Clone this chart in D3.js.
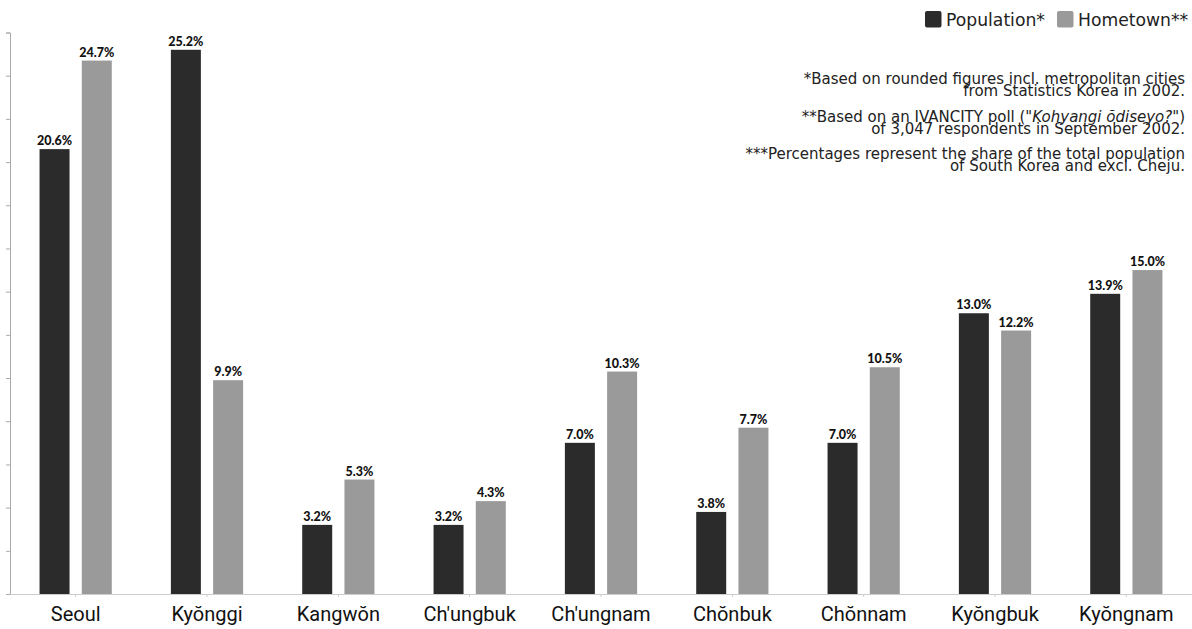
<!DOCTYPE html>
<html>
<head>
<meta charset="utf-8">
<script src="https://cdn.jsdelivr.net/npm/d3@7"></script>
<style>
  html, body { margin: 0; padding: 0; background: #fff; }
  svg { display: block; }
</style>
</head>
<body>
<svg id="chart" width="1192" height="629"></svg>
<script>
// Provinces of South Korea (excluding Cheju)
const provinces = ["Seoul", "Kyŏnggi", "Kangwŏn", "Ch'ungbuk", "Ch'ungnam", "Chŏnbuk", "Chŏnnam", "Kyŏngbuk", "Kyŏngnam"];
// Share of total population, 2002 (%)
const populationShare = [20.6, 25.2, 3.2, 3.2, 7.0, 3.8, 7.0, 13.0, 13.9];
// Share naming the province as their hometown (%)
const hometownShare = [24.7, 9.9, 5.3, 4.3, 10.3, 7.7, 10.5, 12.2, 15.0];
const seriesNames = ["Population*", "Hometown**"];
const yTicks = [0, 2, 4, 6, 8, 10, 12, 14, 16, 18, 20, 22, 24, 26];
const notes = [
  ["*Based on rounded figures incl. metropolitan cities", "from Statistics Korea in 2002."],
  ["**Based on an IVANCITY poll (\"", "of 3,047 respondents in September 2002."],
  ["***Percentages represent the share of the total population", "of South Korea and excl. Cheju."]
];
const pollTitle = "Kohyangi ŏdiseyo?";

const svg = d3.select("#chart");
const colors = d3.scaleOrdinal().domain(seriesNames).range(["#2b2b2b", "#9a9a9a"]);

const x0 = d3.scaleBand().domain(provinces).range([10, 1192]).paddingInner(0.45).paddingOuter(0.225);
const x1 = d3.scaleBand().domain(seriesNames).range([0, x0.bandwidth()]).paddingInner(0.29);
const y = d3.scaleLinear().domain([0, 26]).range([594, 32.5]);

const rows = provinces.map((p, i) => ({
  province: p,
  values: [
    { key: seriesNames[0], value: populationShare[i] },
    { key: seriesNames[1], value: hometownShare[i] }
  ]
}));

// Y axis: ticks only, no labels
const yAxis = svg.append("g")
  .attr("transform", "translate(10,0)")
  .call(d3.axisLeft(y).tickValues(yTicks).tickSize(4).tickFormat(""));
yAxis.select(".domain").attr("stroke", "#aaa");
yAxis.selectAll(".tick line").attr("stroke", "#aaa");

// X axis
const xAxis = svg.append("g")
  .attr("transform", "translate(0,594)")
  .call(d3.axisBottom(x0).tickSize(3).tickSizeOuter(0).tickPadding(10));
xAxis.select(".domain").attr("stroke", "#ccc");
xAxis.selectAll(".tick line").attr("stroke", "#ccc");
xAxis.selectAll(".tick text")
  .attr("font-family", "Roboto, sans-serif")
  .attr("font-size", 20)
  .attr("fill", "#111")
  .attr("dy", "0.71em");

// Bars
const groups = svg.append("g").selectAll("g")
  .data(rows).join("g")
  .attr("transform", d => `translate(${x0(d.province)},0)`);

groups.selectAll("rect")
  .data(d => d.values).join("rect")
  .attr("x", d => x1(d.key))
  .attr("width", x1.bandwidth())
  .attr("y", d => y(d.value))
  .attr("height", d => y(0) - y(d.value))
  .attr("fill", d => colors(d.key));

groups.selectAll("text")
  .data(d => d.values).join("text")
  .attr("x", d => x1(d.key) + x1.bandwidth() / 2)
  .attr("y", d => y(d.value) - 4)
  .attr("text-anchor", "middle")
  .attr("font-family", "Lato, sans-serif")
  .attr("font-weight", 900)
  .attr("font-size", 12.5)
  .attr("fill", "#111")
  .text(d => d.value.toFixed(1) + "%");

// Legend
const legendFont = "'DejaVu Sans', sans-serif";
const legend = svg.append("g");
const legendX = [925, 1057];
seriesNames.forEach((s, i) => {
  legend.append("rect")
    .attr("x", legendX[i]).attr("y", 11)
    .attr("width", 16.5).attr("height", 16.5).attr("rx", 2)
    .attr("fill", colors(s));
  legend.append("text")
    .attr("x", legendX[i] + 21).attr("y", 26)
    .attr("font-family", legendFont)
    .attr("font-size", 17.2)
    .attr("fill", "#222")
    .text(s);
});

// Footnotes, right aligned
const noteG = svg.append("g")
  .attr("font-family", legendFont)
  .attr("font-size", 15)
  .attr("fill", "#222")
  .attr("text-anchor", "end");
const noteBase = [83.5, 121.5, 158.5];
notes.forEach((pair, i) => {
  const t1 = noteG.append("text").attr("x", 1185).attr("y", noteBase[i]);
  if (i === 1) {
    t1.append("tspan").text(pair[0]);
    t1.append("tspan").attr("font-style", "italic").text(pollTitle);
    t1.append("tspan").text("\")");
  } else {
    t1.text(pair[0]);
  }
  noteG.append("text").attr("x", 1185).attr("y", noteBase[i] + 12.5).text(pair[1]);
});
</script>
</body>
</html>
